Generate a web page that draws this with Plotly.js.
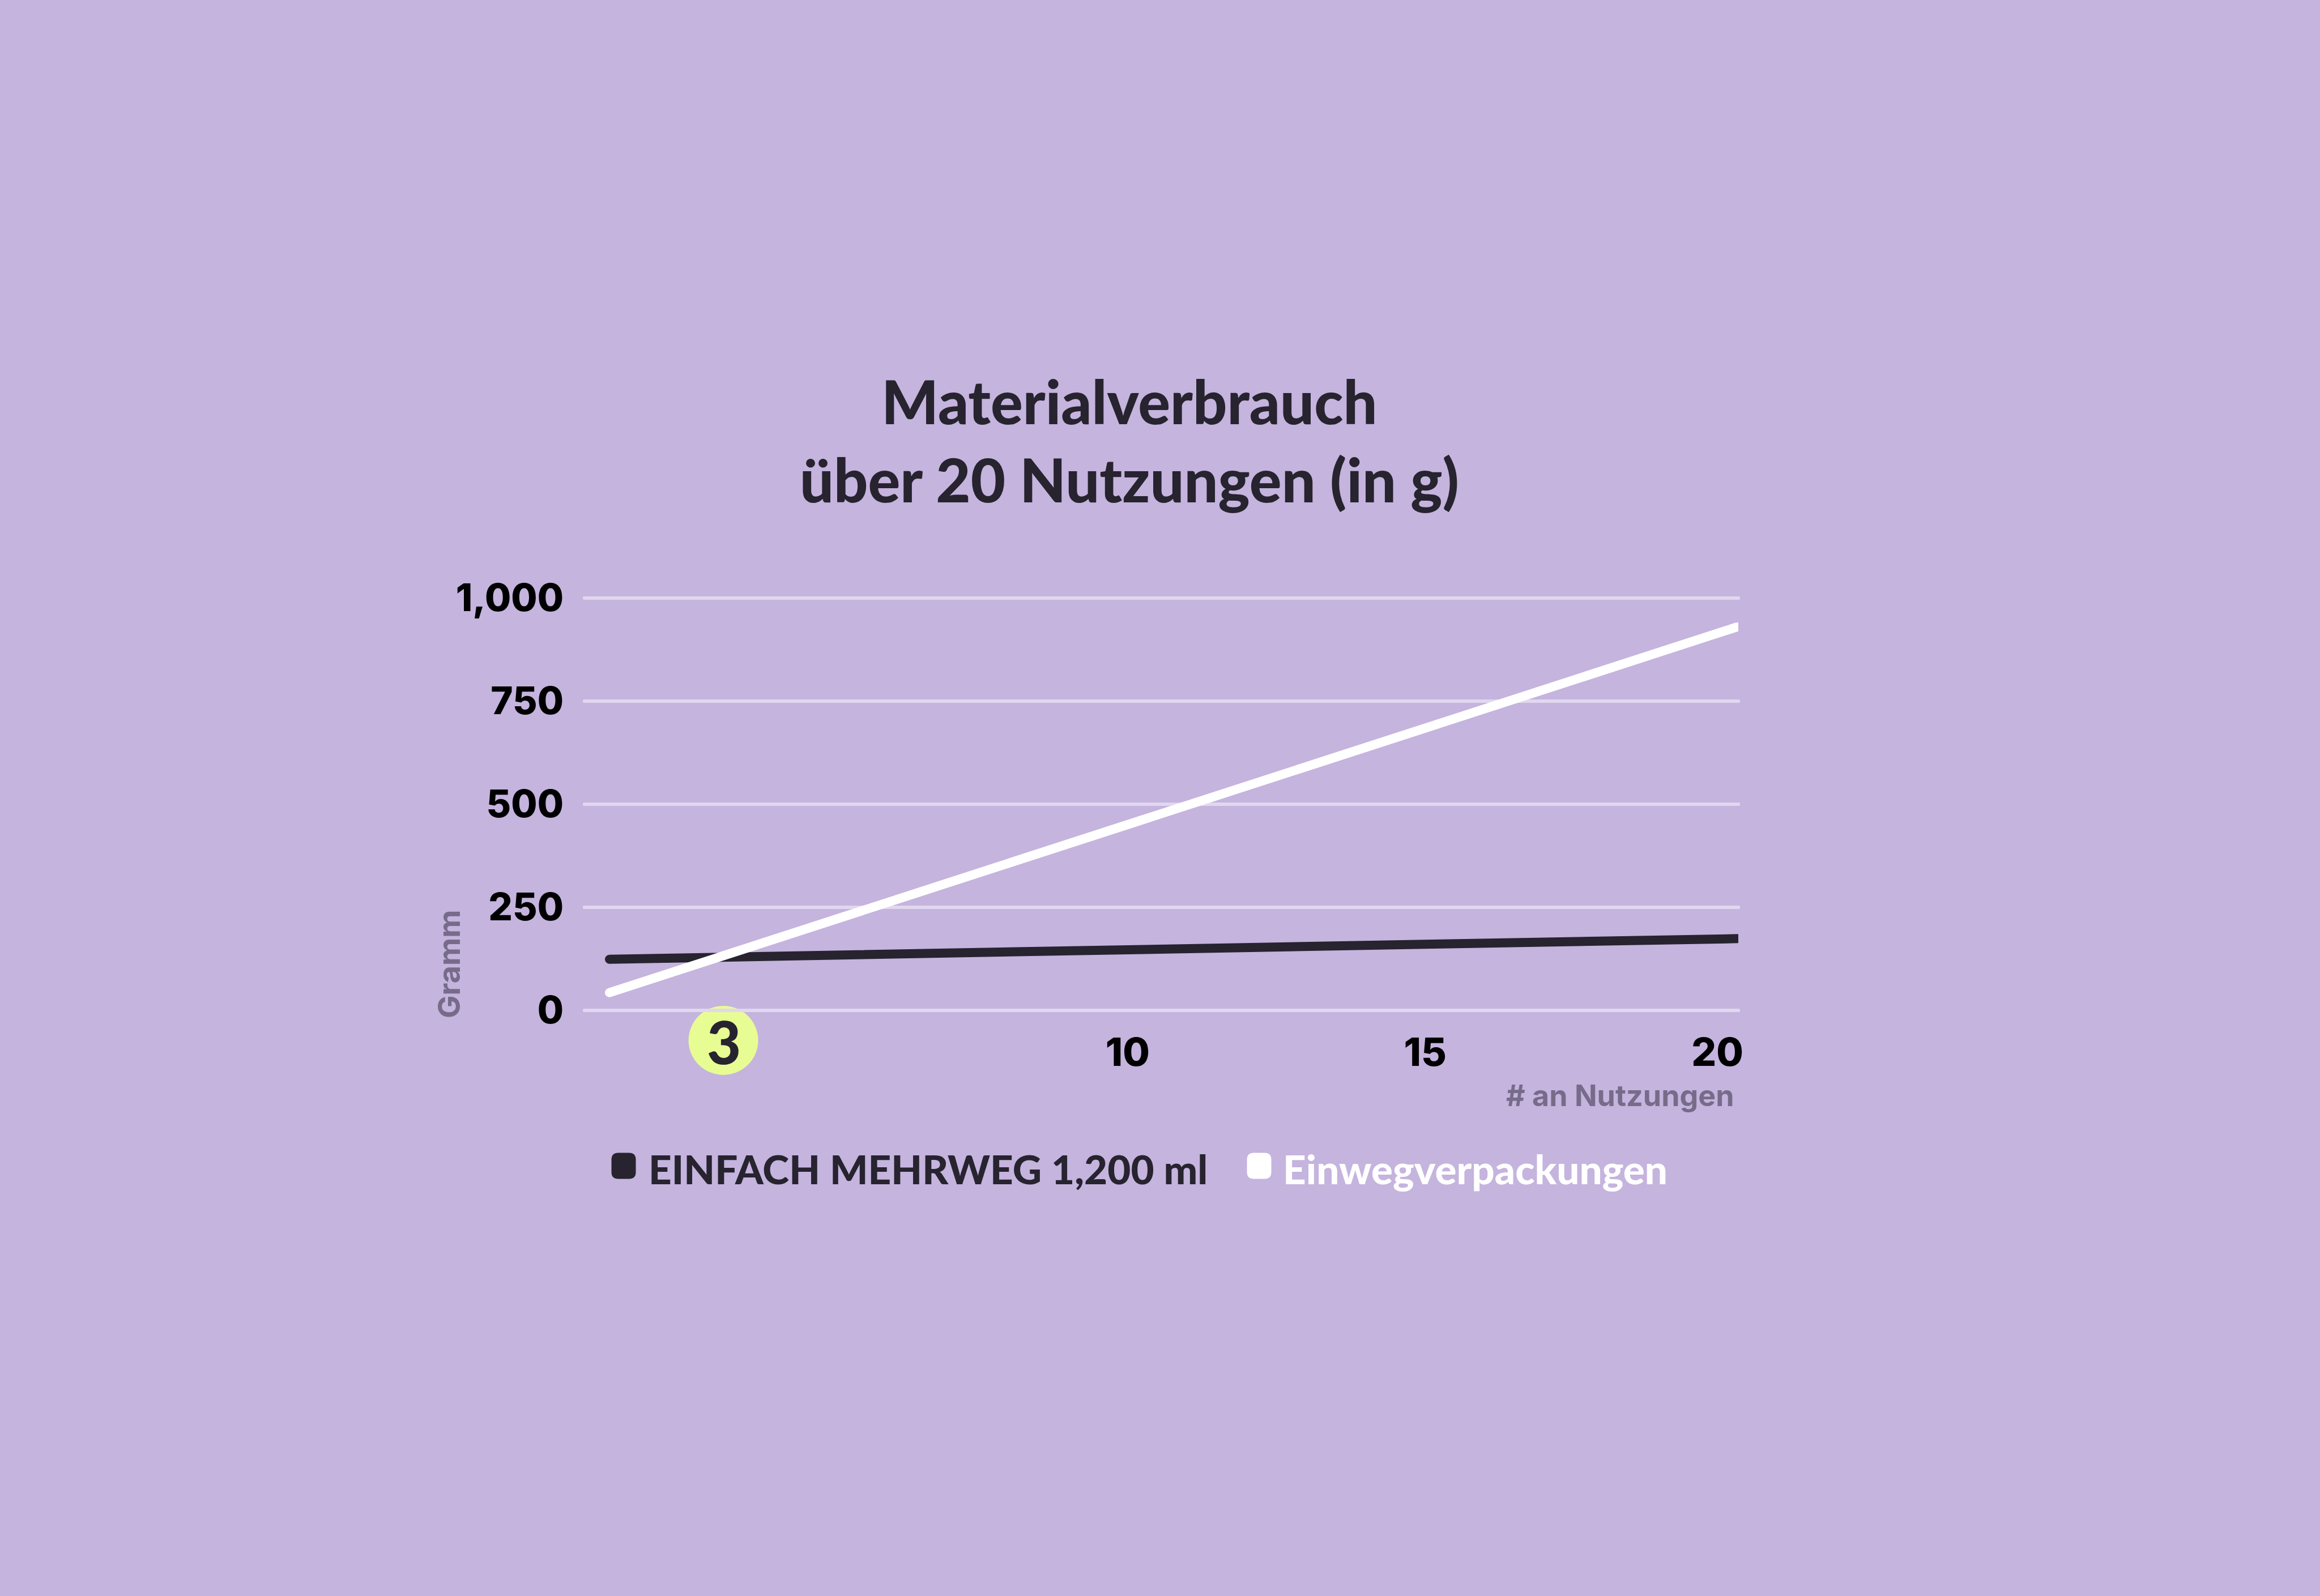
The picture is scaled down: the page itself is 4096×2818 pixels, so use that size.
<!DOCTYPE html>
<html>
<head>
<meta charset="utf-8">
<script src="https://cdn.plot.ly/plotly-3.0.1.min.js"></script>
<style>
  html, body { margin: 0; padding: 0; background: #c4b4de; }
  #chart { width: 4096px; height: 2818px; }
</style>
</head>
<body>
<div id="chart"></div>
<script>
// ---- data ----
const nutzungen = [1, 3, 10, 15, 20];
const mehrwegGramm = [124, 130, 148, 161, 174];
const einwegGramm = [43, 136, 463, 697, 930];
const seriesNames = ['EINFACH MEHRWEG 1,200 ml', 'Einwegverpackungen'];
const breakEven = [3];
const yTickVals = [0, 250, 500, 750, 1000];
const yTickText = ['0', '250', '500', '750', '1,000'];
const xTickVals = [10, 15, 20];
const xTickText = ['10', '15', '20'];
const titleLines = ['Materialverbrauch', 'über 20 Nutzungen (in g)'];
const yTitle = 'Gramm';
const xTitle = '# an Nutzungen';

// ---- style ----
const BG = '#c4b4de';
const DARK = '#27232f';
const WHITE = '#ffffff';
const GRID = '#e1d7ef';
const GREY = '#776b8a';
const LIME = '#e8fc94';
const TITLE_FONT = 'Lato, "Noto Sans", sans-serif';
const TICK_FONT = 'Inter, "Noto Sans", sans-serif';

const traces = [
  {
    x: nutzungen, y: mehrwegGramm, name: seriesNames[0],
    type: 'scatter', mode: 'lines',
    line: { color: DARK, width: 16 },
    showlegend: false, hoverinfo: 'skip'
  },
  {
    x: nutzungen, y: einwegGramm, name: seriesNames[1],
    type: 'scatter', mode: 'lines',
    line: { color: WHITE, width: 16 },
    showlegend: false, hoverinfo: 'skip'
  }
];

function roundedSquarePath(w, h, r) {
  const x = w / 2, y = h / 2;
  return `M ${-x + r},${y} L ${x - r},${y} Q ${x},${y} ${x},${y - r} L ${x},${-y + r} Q ${x},${-y} ${x - r},${-y} ` +
         `L ${-x + r},${-y} Q ${-x},${-y} ${-x},${-y + r} L ${-x},${y - r} Q ${-x},${y} ${-x + r},${y} Z`;
}

const legendY = -0.349;
const legendItems = [
  { x: 0.0339, tx: 0.0545, color: DARK, text: seriesNames[0] },
  { x: 0.5847, tx: 0.6043, color: WHITE, text: seriesNames[1] }
];

const shapes = [
  {
    type: 'circle', xref: 'x', yref: 'paper', layer: 'below',
    xsizemode: 'pixel', ysizemode: 'pixel',
    xanchor: breakEven[0], yanchor: -0.0556,
    x0: -70, x1: 53, y0: -61, y1: 61,
    fillcolor: LIME, line: { width: 0 }
  }
].concat(legendItems.map(it => ({
  type: 'path', xref: 'paper', yref: 'paper',
  xsizemode: 'pixel', ysizemode: 'pixel',
  xanchor: it.x, yanchor: legendY,
  path: roundedSquarePath(43, 46, 12),
  fillcolor: it.color, line: { width: 0 }
})));

const annotations = [
  {
    x: breakEven[0], xref: 'x', y: -0.0556, yref: 'paper', xshift: -8, yshift: -2,
    text: String(breakEven[0]), showarrow: false,
    xanchor: 'center', yanchor: 'middle',
    font: { family: TITLE_FONT, size: 104, color: DARK, weight: 900 }
  },
  {
    x: -0.1173, xref: 'paper', y: 0.1232, yref: 'paper',
    text: yTitle, textangle: -90, showarrow: false,
    xanchor: 'center', yanchor: 'middle',
    font: { family: TICK_FONT, size: 54, color: GREY, weight: 700 }
  },
  {
    x: 0.9975, xref: 'paper', y: -0.1854, yref: 'paper',
    text: xTitle, showarrow: false,
    xanchor: 'right', yanchor: 'middle',
    font: { family: TICK_FONT, size: 52, color: GREY, weight: 700 }
  }
].concat(legendItems.map(it => ({
  x: it.tx, xref: 'paper', y: legendY - 0.007, yref: 'paper',
  text: it.text, showarrow: false,
  xanchor: 'left', yanchor: 'middle',
  font: { family: TITLE_FONT, size: 71, color: it.color, weight: 900 }
})));

const layout = {
  width: 4096, height: 2818,
  paper_bgcolor: BG, plot_bgcolor: 'rgba(0,0,0,0)',
  margin: { l: 1032, r: 1027, t: 1040, b: 1023, pad: 0 },
  showlegend: false,
  title: {
    text: titleLines.join('<br>'),
    x: 0.4868, xref: 'container', xanchor: 'center',
    y: 0.7342, yref: 'container', yanchor: 'top',
    font: { family: TITLE_FONT, size: 106, color: DARK, weight: 900 }
  },
  xaxis: {
    range: [0.58, 20.02],
    tickvals: xTickVals, ticktext: xTickText,
    showgrid: false, zeroline: false, showline: false,
    ticks: '', ticklabelposition: 'outside left',
    ticklabelstandoff: 17, ticklabelshift: 11,
    tickfont: { family: TICK_FONT, size: 69, color: '#000000', weight: 800 },
    fixedrange: true
  },
  yaxis: {
    range: [-15.1, 1022],
    tickvals: yTickVals, ticktext: yTickText,
    showgrid: true, gridcolor: GRID, gridwidth: 6,
    zeroline: false, showline: false, ticks: '',
    ticklabelstandoff: 36,
    tickfont: { family: TICK_FONT, size: 67, color: '#000000', weight: 800 },
    fixedrange: true
  },
  shapes: shapes,
  annotations: annotations
};

Plotly.newPlot('chart', traces, layout, { staticPlot: true }).then(function () {
  document.querySelectorAll('.scatterlayer .js-line').forEach(function (p) {
    p.style.strokeLinecap = 'round';
    p.style.strokeLinejoin = 'round';
  });
  document.querySelectorAll('.ygrid').forEach(function (p) {
    p.style.strokeLinecap = 'round';
  });
});
</script>
</body>
</html>
